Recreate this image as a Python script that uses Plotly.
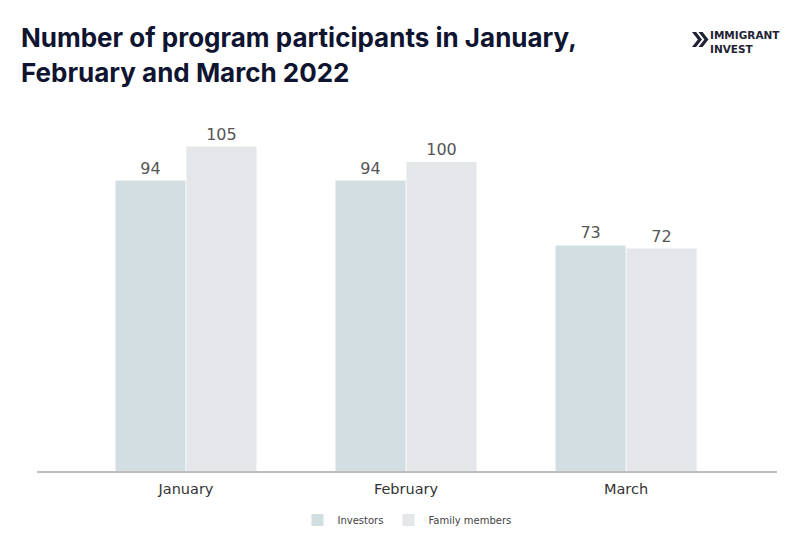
import plotly.graph_objects as go

categories = ["January", "February", "March"]
investors = [94, 94, 73]
family_members = [105, 100, 72]
series_names = ["Investors", "Family members"]
title_lines = ["Number of program participants in January,", "February and March 2022"]
logo_lines = ["IMMIGRANT", "INVEST"]

fig = go.Figure()
for vals, name, color in [(investors, series_names[0], "#d3dee3"),
                          (family_members, series_names[1], "#e4e6ea")]:
    fig.add_trace(go.Bar(
        x=categories, y=vals, name=name,
        marker=dict(color=color, line=dict(width=0)),
        text=vals, textposition="outside",
        textfont=dict(family="DejaVu Sans", size=16, color="#555555"),
        cliponaxis=False,
    ))

# page body adds an 8px offset; margins compensate for it
fig.update_layout(
    width=801, height=551,
    margin=dict(l=29, r=32, t=112, b=88, autoexpand=False),
    paper_bgcolor="white", plot_bgcolor="white",
    barmode="group", bargap=0.355, bargroupgap=0.012,
    legend=dict(orientation="h", x=0.5, xanchor="center", y=-0.1396, yanchor="middle",
                font=dict(family="DejaVu Sans", size=10, color="#444444"),
                itemwidth=30, traceorder="normal"),
    xaxis=dict(range=[-0.677, 2.686], showgrid=False, showline=True,
               linecolor="#bdbdbd", linewidth=2, ticks="", ticklabelstandoff=4,
               tickfont=dict(family="DejaVu Sans", size=14.5, color="#333333")),
    yaxis=dict(range=[0, 113.6], visible=False),
)

for line, yy in zip(title_lines, [1.235, 1.134]):
    fig.add_annotation(text="<b>" + line + "</b>", xref="paper", yref="paper",
                       x=-0.0243, y=yy, xanchor="left", yanchor="middle",
                       align="left", showarrow=False,
                       font=dict(family="Inter", size=26, color="#0f1430"))

# logo
fig.add_annotation(text="<b>" + "<br>".join(logo_lines) + "</b>", xref="paper", yref="paper",
                   x=0.9067, y=1.2222, xanchor="left", yanchor="middle", align="left",
                   showarrow=False,
                   font=dict(family="DejaVu Sans", size=10.5, color="#1f2335"))
x0, x1, y0, y1 = 0.8851, 0.9027, 1.2507, 1.208
ym = (y0 + y1) / 2
w = (x1 - x0) * 0.45
for dx in [0, (x1 - x0) * 0.5]:
    a = x0 + dx
    fig.add_shape(type="path", xref="paper", yref="paper",
                  path=f"M {a} {y0} L {a + w} {ym} L {a} {y1} L {a + w*0.7} {y1} L {a + w*1.7} {ym} L {a + w*0.7} {y0} Z",
                  fillcolor="#1f2335", line=dict(width=0))

fig.write_html("out.html")
